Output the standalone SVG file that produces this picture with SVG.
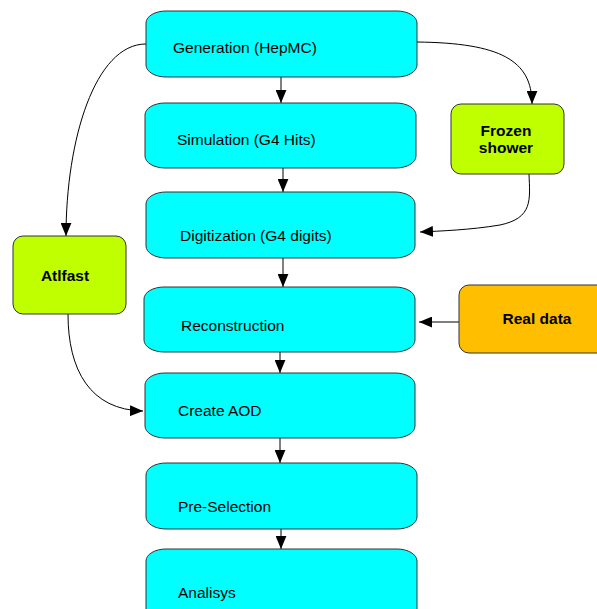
<svg xmlns="http://www.w3.org/2000/svg" width="597" height="609" viewBox="0 0 597 609">
<style>
.step{fill:#00ffff;stroke:#333;stroke-width:1}
.green{fill:#bfff00;stroke:#333;stroke-width:1}
.orange{fill:#ffbf00;stroke:#333;stroke-width:1}
text{font-family:"Liberation Sans",Arial,sans-serif;font-size:15.5px;fill:#000}
.b{font-weight:bold;text-anchor:middle}
.c{fill:none;stroke:#000;stroke-width:1}
</style>
<defs>
<marker id="ah" viewBox="0 0 12 10" refX="12" refY="5" markerWidth="13" markerHeight="11" markerUnits="userSpaceOnUse" orient="auto">
<path d="M0,0 L12,5 L0,10 Z" fill="#000"/>
</marker>
</defs>
<g id="connectors">
<path class="c" d="M281,77 L281,103" marker-end="url(#ah)"/>
<path class="c" d="M283,168 L283,192" marker-end="url(#ah)"/>
<path class="c" d="M283,258 L283,287" marker-end="url(#ah)"/>
<path class="c" d="M280,352 L280,373" marker-end="url(#ah)"/>
<path class="c" d="M280,438 L280,463" marker-end="url(#ah)"/>
<path class="c" d="M281,529 L281,549" marker-end="url(#ah)"/>
<path class="c" d="M146,44 C95,44 66,140 66,236" marker-end="url(#ah)"/>
<path class="c" d="M417,42 C500,43 532,60 532,104" marker-end="url(#ah)"/>
<path class="c" d="M529,174 C530,200 533,218 500,225 C470,230 440,231 420,232" marker-end="url(#ah)"/>
<path class="c" d="M68,314 C68,370 90,410 143,411" marker-end="url(#ah)"/>
<path class="c" d="M459,322 L419,322" stroke="#666" marker-end="url(#ah)"/>
</g>
<g id="generation"><rect class="step" x="146" y="11" width="271" height="66" rx="20" ry="12"/><text x="173" y="53">Generation (HepMC)</text></g>
<g id="simulation"><rect class="step" x="145" y="103" width="271" height="65" rx="20" ry="12"/><text x="177" y="145">Simulation (G4 Hits)</text></g>
<g id="digitization"><rect class="step" x="146" y="192" width="269" height="66" rx="20" ry="12"/><text x="180" y="241">Digitization (G4 digits)</text></g>
<g id="reconstruction"><rect class="step" x="144" y="287" width="271" height="65" rx="20" ry="12"/><text x="181" y="331">Reconstruction</text></g>
<g id="createaod"><rect class="step" x="145" y="373" width="270" height="65" rx="20" ry="12"/><text x="178" y="416">Create AOD</text></g>
<g id="preselection"><rect class="step" x="146" y="463" width="271" height="66" rx="20" ry="12"/><text x="178" y="512">Pre-Selection</text></g>
<g id="analisys"><rect class="step" x="146" y="549" width="271" height="80" rx="20" ry="12"/><text x="178" y="598">Analisys</text></g>
<g id="frozen"><rect class="green" x="451" y="104" width="113" height="70" rx="10" ry="10"/><text class="b" x="506" y="136">Frozen</text><text class="b" x="506" y="153">shower</text></g>
<g id="atlfast"><rect class="green" x="13" y="236" width="113" height="78" rx="10" ry="10"/><text class="b" x="65" y="281">Atlfast</text></g>
<g id="realdata"><rect class="orange" x="459" y="285" width="150" height="68" rx="10" ry="10"/><text class="b" x="537" y="324">Real data</text></g>
</svg>
